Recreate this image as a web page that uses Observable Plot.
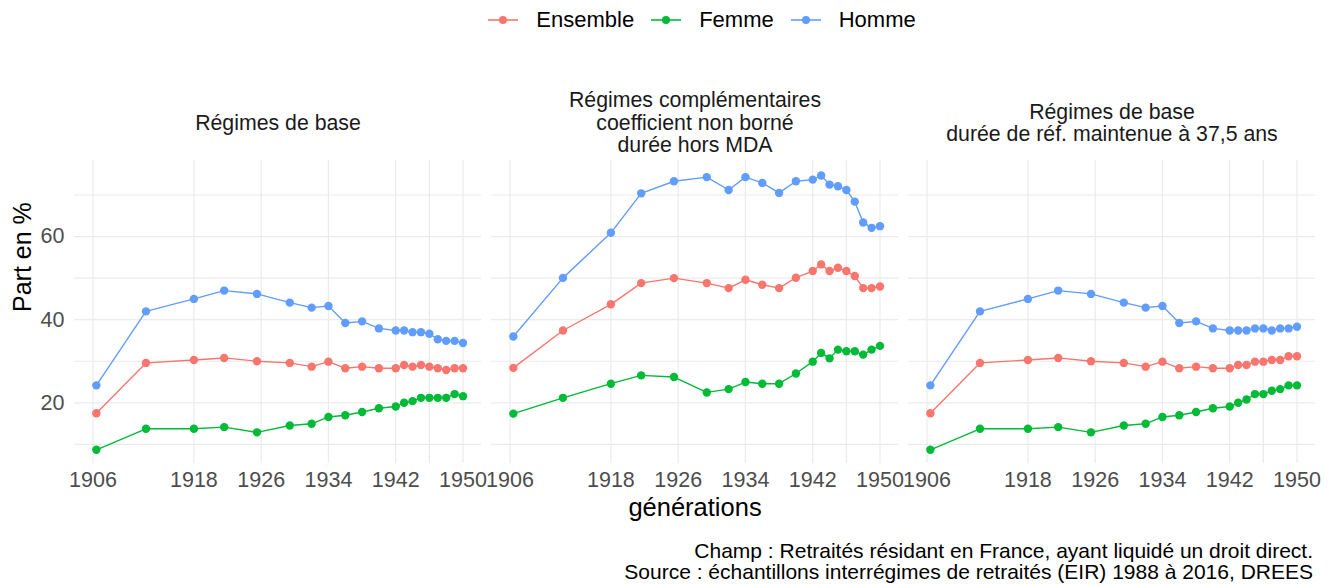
<!DOCTYPE html>
<html>
<head>
<meta charset="utf-8">
<script src="https://cdn.jsdelivr.net/npm/d3@7"></script>
<script src="https://cdn.jsdelivr.net/npm/@observablehq/plot@0.6"></script>
<style>
  html, body { margin: 0; padding: 0; background: #fff; }
  body { width: 1335px; height: 585px; overflow: hidden; font-family: "Liberation Sans", Arial, sans-serif; }
  #legend { height: 40px; display: flex; justify-content: center; align-items: center; font-size: 22px; color: #000; padding-left: 68px; }
  #legend .item { display: flex; align-items: center; margin: 0 8px; }
  #legend svg { margin-right: 17px; }
  #caption { text-align: right; padding-right: 22px; font-size: 21px; line-height: 21.3px; color: #000; margin-top: 5px; }
</style>
</head>
<body>
<div id="legend"></div>
<div id="chart"></div>
<div id="caption"></div>
<script>
// ---- Data ----
const series = ["Ensemble", "Femme", "Homme"];
const seriesColors = ["#F8766D", "#00BA38", "#619CFF"];
const panelKeys = ["p1", "p2", "p3"];
const panelTitles = [
  "Régimes de base",
  "Régimes complémentaires\ncoefficient non borné\ndurée hors MDA",
  "Régimes de base\ndurée de réf. maintenue à 37,5 ans"
];
const generations = [1906.4, 1912.3, 1918, 1921.6, 1925.5, 1929.4, 1932, 1934, 1936, 1938, 1940, 1942, 1943, 1944, 1945, 1946, 1947, 1948, 1949, 1950];

// Panel 1 : Régimes de base
const base_ensemble = [17.5, 29.6, 30.3, 30.8, 30.0, 29.6, 28.7, 29.9, 28.3, 28.7, 28.3, 28.3, 29.1, 28.7, 29.1, 28.7, 28.3, 27.9, 28.3, 28.3];
const base_femme    = [8.7, 13.75, 13.75, 14.15, 12.9, 14.55, 14.95, 16.6, 17.0, 17.8, 18.7, 19.1, 20.0, 20.4, 21.2, 21.2, 21.2, 21.2, 22.1, 21.6];
const base_homme    = [24.2, 42.0, 45.0, 47.0, 46.2, 44.1, 42.9, 43.3, 39.2, 39.6, 37.9, 37.4, 37.4, 37.0, 37.0, 36.6, 35.3, 34.9, 34.9, 34.4];

// Panel 2 : Régimes complémentaires
const compl_ensemble = [28.4, 37.4, 43.7, 48.8, 50.0, 48.8, 47.6, 49.6, 48.4, 47.6, 50.1, 51.7, 53.3, 51.7, 52.5, 51.7, 50.5, 47.6, 47.6, 48.0];
const compl_femme    = [17.4, 21.2, 24.6, 26.6, 26.2, 22.5, 23.3, 25.0, 24.6, 24.6, 27.05, 29.9, 32.0, 30.7, 32.8, 32.4, 32.4, 31.6, 32.8, 33.7];
const compl_homme    = [35.95, 50.06, 60.9, 70.4, 73.3, 74.3, 71.2, 74.3, 72.9, 70.5, 73.3, 73.7, 74.7, 72.5, 72.1, 71.2, 68.4, 63.4, 62.1, 62.5];

// Panel 3 : Régimes de base, durée de réf. maintenue à 37,5 ans
const ref_ensemble = [17.5, 29.6, 30.3, 30.8, 30.0, 29.6, 28.7, 29.9, 28.3, 28.7, 28.3, 28.3, 29.1, 29.1, 29.9, 29.9, 30.3, 30.3, 31.2, 31.2];
const ref_femme    = [8.7, 13.75, 13.75, 14.15, 12.9, 14.55, 14.95, 16.6, 17.0, 17.8, 18.7, 19.1, 20.0, 20.8, 22.1, 22.1, 22.9, 23.3, 24.2, 24.2];
const ref_homme    = [24.2, 42.0, 45.0, 47.0, 46.2, 44.1, 42.9, 43.3, 39.2, 39.6, 37.9, 37.4, 37.4, 37.4, 37.9, 37.9, 37.4, 37.9, 37.9, 38.3];

const xTicks = [1906, 1918, 1926, 1934, 1942, 1950];
const xGrid = [1906, 1918, 1926, 1934, 1942, 1946, 1950];
const yTicks = [20, 40, 60];
const yGrid = [10, 20, 30, 40, 50, 60, 70];
const yTitle = "Part en %";
const xTitle = "générations";
const captionLines = [
  "Champ : Retraités résidant en France, ayant liquidé un droit direct.",
  "Source : échantillons interrégimes de retraités (EIR) 1988 à 2016, DREES"
];

// ---- Build table ----
const panelData = {
  p1: [base_ensemble, base_femme, base_homme],
  p2: [compl_ensemble, compl_femme, compl_homme],
  p3: [ref_ensemble, ref_femme, ref_homme]
};
const rows = [];
for (const p of panelKeys) {
  panelData[p].forEach((vals, si) => {
    vals.forEach((v, i) => rows.push({panel: p, serie: series[si], gen: generations[i], value: v}));
  });
}

const FONT = "Liberation Sans, Arial, sans-serif";

const chart = Plot.plot({
  width: 1335,
  height: 495,
  marginLeft: 73,
  marginRight: 18,
  marginTop: 120,
  marginBottom: 72,
  style: {fontFamily: FONT, background: "#fff", overflow: "visible"},
  fx: {domain: panelKeys, paddingInner: 0.023, paddingOuter: 0, axis: null, label: null},
  x: {domain: [1903.8, 1952.2], axis: null},
  y: {domain: [5.4, 78.3], axis: null},
  color: {domain: series, range: seriesColors},
  marks: [
    Plot.ruleY(yGrid, {stroke: "#EBEBEB", strokeWidth: 1.2}),
    Plot.ruleX(xGrid, {stroke: "#EBEBEB", strokeWidth: 1.2}),
    Plot.axisX({ticks: xTicks, tickSize: 0, tickPadding: 8, fontSize: 21.5, fill: "#4D4D4D", label: null, tickFormat: d => String(d)}),
    Plot.axisY({ticks: yTicks, tickSize: 0, tickPadding: 10, fontSize: 21.5, fill: "#4D4D4D", label: null, anchor: "left"}),
    Plot.line(rows, {x: "gen", y: "value", z: "serie", stroke: "serie", fx: "panel", strokeWidth: 1.4}),
    Plot.dot(rows, {x: "gen", y: "value", fill: "serie", fx: "panel", r: 4.2, stroke: "none"}),
    Plot.text(panelKeys, {fx: d => d, text: (d, i) => panelTitles[i], frameAnchor: "top", dy: -38, lineAnchor: "middle", lineHeight: 1.04, fontSize: 21.3, fill: "#1A1A1A"}),
    Plot.text([yTitle], {fx: () => panelKeys[0], text: d => d, frameAnchor: "left", dx: -52, rotate: -90, fontSize: 25, fill: "#000"}),
    Plot.text([xTitle], {fx: () => panelKeys[1], text: d => d, frameAnchor: "bottom", dy: 52, fontSize: 25.5, fill: "#000"})
  ]
});
document.getElementById("chart").appendChild(chart);

// ---- Legend ----
const legend = document.getElementById("legend");
series.forEach((s, i) => {
  const item = document.createElement("div");
  item.className = "item";
  item.innerHTML = `<svg width="32" height="20"><line x1="1" x2="31" y1="10" y2="10" stroke="${seriesColors[i]}" stroke-width="1.6"/><circle cx="16" cy="10" r="4" fill="${seriesColors[i]}"/></svg><span>${s}</span>`;
  legend.appendChild(item);
});

// ---- Caption ----
document.getElementById("caption").innerHTML = captionLines.map(l => `<div>${l}</div>`).join("");
</script>
</body>
</html>
